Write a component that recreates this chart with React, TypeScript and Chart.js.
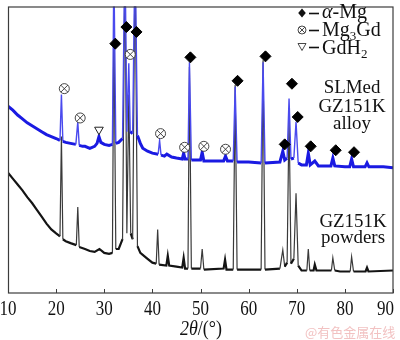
import { useEffect, useRef } from "react";
import { Chart, registerables } from "chart.js";

Chart.register(...registerables);

const X_MIN = 10;
const X_MAX = 90;
const Y_MAX = 293;
const X_TICKS = [10, 20, 30, 40, 50, 60, 70, 80, 90];

// SLMed GZ151K alloy pattern (2θ, intensity a.u.)
const ALLOY_2THETA = [
  10, 11, 12, 13, 14, 15, 16, 17, 18, 19, 20, 20.8, 21.1, 21.4, 22, 23, 24.1, 24.5, 24.8,
  25.5, 26, 27, 28, 28.5, 28.9, 29.3, 30, 31, 31.7, 32.0, 32.4, 33, 33.8, 34.3, 34.7, 35.1,
  35.4, 35.9, 36.4, 36.9, 37.5, 38, 39, 40, 41.2, 41.5, 41.8, 42.5, 43, 44, 45, 46.2, 46.5,
  46.8, 47.4, 47.7, 48.1, 50, 50.35, 50.7, 54.8, 55.2, 55.6, 56.8, 57.2, 57.6, 60, 62.6, 63.0,
  63.4, 66.5, 67.1, 67.5, 68.0, 68.4, 68.8, 69.4, 69.85, 70.3, 71, 72, 72.4, 72.8, 73.75, 74.5,
  77.1, 77.5, 77.9, 80, 81.0, 81.4, 81.8, 84.2, 84.6, 85, 88, 90,
];
const ALLOY_INT = [
  191, 187, 182, 178, 174, 171, 168, 165, 162, 160, 158, 156, 203, 155, 154, 153, 152, 175, 151,
  150, 150, 148, 150, 153, 160, 154, 152, 151, 152, 333, 153, 154, 158, 353, 165, 235,
  165, 163, 353, 161, 153, 148, 145, 143, 142, 156, 141, 140, 142, 139, 138, 137, 143,
  137, 137, 236, 136, 136, 144, 135, 135, 140, 135, 135, 211, 134, 134, 133, 236,
  133, 134, 145, 136, 138, 199, 137, 138, 175, 133, 131, 131, 143, 131, 135, 130,
  130, 138, 130, 129, 129, 137, 129, 129, 133, 129, 129, 128,
];

// GZ151K powders pattern (2θ, intensity a.u.)
const POWDER_2THETA = [
  10, 11, 12, 13, 14, 15, 16, 17, 18, 19, 20, 20.8, 21.1, 21.4, 22, 23, 24.2, 24.5, 24.8,
  26, 27, 28, 29, 30, 31, 31.7, 32.0, 32.4, 33, 33.8, 34.3, 34.7, 35.1, 35.5, 35.9, 36.4,
  36.9, 37.5, 38, 39, 40, 40.8, 41.1, 41.4, 42.9, 43.2, 43.5, 45, 46.2, 46.5, 46.8, 47.4,
  47.7, 48.1, 50, 50.35, 50.7, 54.8, 55.1, 55.4, 56.8, 57.2, 57.6, 62.6, 63.0, 63.4, 66.5,
  67.1, 67.5, 68.0, 68.4, 68.8, 69.4, 69.85, 70.3, 71, 72.1, 72.4, 72.7, 73.5, 73.75, 74.1,
  77.2, 77.5, 77.9, 79, 81.1, 81.4, 81.8, 84.3, 84.6, 84.9, 90,
];
const POWDER_INT = [
  123, 117, 111, 105, 98, 92, 85, 78, 71, 65, 61, 58, 160, 55, 53, 51, 49, 88, 47,
  45, 43, 42, 45, 41, 40, 41, 283, 45, 45, 55, 343, 61, 203, 61, 55, 343,
  48, 41, 39, 35, 31, 30, 65, 29, 28, 38, 28, 27, 26, 36, 25, 25,
  231, 25, 25, 45, 24, 25, 34, 24, 24, 213, 24, 24, 238, 24, 25,
  44, 27, 31, 183, 30, 35, 102, 28, 23, 23, 45, 23, 23, 29, 23,
  23, 36, 23, 22, 22, 37, 22, 22, 26, 22, 23,
];

// Phase markers
const MG_2THETA = [32.3, 34.6, 36.7, 47.9, 57.7, 63.5, 67.5, 69.0, 70.2, 72.9, 78.1, 81.9];
const MG_INT = [255, 272, 267, 241, 217, 242, 152, 214, 180, 150, 146, 144];
const MG3GD_2THETA = [21.7, 25.0, 35.4, 41.7, 46.7, 50.7, 55.2];
const MG3GD_INT = [209, 179, 244, 163, 149, 150, 147];
const GDH2_2THETA = [28.9];
const GDH2_INT = [167];

const X_TITLE_ITALIC = "2θ";
const X_TITLE_REST = "/(°)";
const ALLOY_LABEL = ["SLMed", "GZ151K", "alloy"];
const POWDER_LABEL = ["GZ151K", "powders"];
const WATERMARK = "@有色金属在线";

const SERIF = "'Liberation Serif', 'Times New Roman', serif";

const pts = (xs: number[], ys: number[]) => xs.map((x, i) => ({ x, y: ys[i] }));

type Run = { s: string; font: string; dy?: number };

function drawRuns(ctx: CanvasRenderingContext2D, runs: Run[], x: number, y: number, align: "left" | "center" | "right", sx = 1) {
  let total = 0;
  const widths = runs.map((r) => {
    ctx.font = r.font;
    const w = ctx.measureText(r.s).width * sx;
    total += w;
    return w;
  });
  let cx = align === "left" ? x : align === "center" ? x - total / 2 : x - total;
  runs.forEach((r, i) => {
    ctx.save();
    ctx.font = r.font;
    ctx.textAlign = "left";
    ctx.textBaseline = "alphabetic";
    ctx.translate(cx, y + (r.dy || 0));
    ctx.scale(sx, 1);
    ctx.fillText(r.s, 0, 0);
    ctx.restore();
    cx += widths[i];
  });
}

const decor = {
  id: "decor",
  afterDraw(chart: any) {
    const { ctx, chartArea: a, scales } = chart;
    const xs = scales.x;
    ctx.save();
    // frame
    ctx.strokeStyle = "#3c3c3c";
    ctx.lineWidth = 1.2;
    ctx.strokeRect(a.left + 0.5, a.top + 0.5, a.right - a.left - 0.5, a.bottom - a.top - 0.5);
    // inward ticks
    ctx.lineWidth = 1;
    X_TICKS.forEach((v) => {
      const px = Math.round(xs.getPixelForValue(v)) + 0.5;
      ctx.beginPath();
      ctx.moveTo(px, a.bottom);
      ctx.lineTo(px, a.bottom - 4);
      ctx.stroke();
    });
    ctx.fillStyle = "#111";
    // tick labels
    X_TICKS.forEach((v, i) => {
      const px = xs.getPixelForValue(v);
      const last = i === X_TICKS.length - 1;
      drawRuns(ctx, [{ s: String(v), font: `20px ${SERIF}` }], last ? a.right + 1 : px, 315, last ? "right" : "center", 0.85);
    });
    // axis title
    drawRuns(
      ctx,
      [
        { s: X_TITLE_ITALIC, font: `italic 20px ${SERIF}` },
        { s: X_TITLE_REST, font: `20px ${SERIF}` },
      ],
      201,
      335,
      "center",
      0.9
    );
    // legend
    const sx0 = 302;
    const rows = [13, 30, 47];
    // diamond
    ctx.beginPath();
    ctx.moveTo(sx0, rows[0] - 4.5);
    ctx.lineTo(sx0 + 3.8, rows[0]);
    ctx.lineTo(sx0, rows[0] + 4.5);
    ctx.lineTo(sx0 - 3.8, rows[0]);
    ctx.closePath();
    ctx.fill();
    // circle cross
    ctx.strokeStyle = "#333";
    ctx.lineWidth = 0.9;
    ctx.beginPath();
    ctx.arc(sx0, rows[1], 4, 0, Math.PI * 2);
    ctx.stroke();
    const d = 4 * Math.SQRT1_2;
    ctx.beginPath();
    ctx.moveTo(sx0 - d, rows[1] - d);
    ctx.lineTo(sx0 + d, rows[1] + d);
    ctx.moveTo(sx0 + d, rows[1] - d);
    ctx.lineTo(sx0 - d, rows[1] + d);
    ctx.stroke();
    // triangle down
    ctx.beginPath();
    ctx.moveTo(sx0 - 4, rows[2] - 3.5);
    ctx.lineTo(sx0 + 4, rows[2] - 3.5);
    ctx.lineTo(sx0, rows[2] + 3.5);
    ctx.closePath();
    ctx.stroke();
    // dashes
    ctx.strokeStyle = "#111";
    ctx.lineWidth = 1.6;
    rows.forEach((ry) => {
      ctx.beginPath();
      ctx.moveTo(309, ry + 0.5);
      ctx.lineTo(319, ry + 0.5);
      ctx.stroke();
    });
    const lf = `20px ${SERIF}`;
    const lsub = `13px ${SERIF}`;
    drawRuns(ctx, [{ s: "α", font: `italic ${lf}` }, { s: "-Mg", font: lf }], 322, 18, "left");
    drawRuns(ctx, [{ s: "Mg", font: lf }, { s: "3", font: lsub, dy: 4 }, { s: "Gd", font: lf }], 322, 36, "left");
    drawRuns(ctx, [{ s: "GdH", font: lf }, { s: "2", font: lsub, dy: 4 }], 322, 54, "left");
    // sample labels
    const sf = `18px ${SERIF}`;
    [93, 112, 129].forEach((by, i) => drawRuns(ctx, [{ s: ALLOY_LABEL[i], font: sf }], 352, by, "center", 1.05));
    [227, 243].forEach((by, i) => drawRuns(ctx, [{ s: POWDER_LABEL[i], font: sf }], 353, by, "center", 1.05));
    // watermark
    ctx.fillStyle = "#f2c2c2";
    drawRuns(ctx, [{ s: WATERMARK, font: "13px 'Noto Sans CJK SC', sans-serif" }], 305, 337, "left");
    ctx.restore();
  },
};

export default function App() {
  const ref = useRef<HTMLCanvasElement | null>(null);
  useEffect(() => {
    if (!ref.current) return;
    const isPeak = (c: any) => Math.abs(c.p1.parsed.y - c.p0.parsed.y) > 12;
    const chart = new Chart(ref.current, {
      type: "scatter",
      data: {
        datasets: [
          {
            data: pts(MG_2THETA, MG_INT),
            pointStyle: "rectRot",
            pointRadius: 5.5,
            backgroundColor: "#000",
            borderColor: "#000",
            borderWidth: 1,
          },
          {
            data: pts(MG3GD_2THETA, MG3GD_INT),
            pointStyle: "crossRot",
            pointRadius: 5,
            borderColor: "#333",
            borderWidth: 0.9,
          },
          {
            data: pts(MG3GD_2THETA, MG3GD_INT),
            pointStyle: "circle",
            pointRadius: 5,
            backgroundColor: "#fff",
            borderColor: "#333",
            borderWidth: 0.9,
          },
          {
            data: pts(GDH2_2THETA, GDH2_INT),
            pointStyle: "triangle",
            rotation: 180,
            pointRadius: 5,
            backgroundColor: "#fff",
            borderColor: "#222",
            borderWidth: 1,
          },
          {
            data: pts(ALLOY_2THETA, ALLOY_INT),
            showLine: true,
            pointRadius: 0,
            borderColor: "#1a1ae2",
            borderWidth: 3,
            segment: {
              borderWidth: (c: any) => (isPeak(c) ? 1.4 : 3),
              borderColor: (c: any) => (isPeak(c) ? "#4a4aee" : "#1a1ae2"),
            },
          },
          {
            data: pts(POWDER_2THETA, POWDER_INT),
            showLine: true,
            pointRadius: 0,
            borderColor: "#141414",
            borderWidth: 2.2,
            segment: {
              borderWidth: (c: any) => (isPeak(c) ? 1.2 : 2.2),
              borderColor: (c: any) => (isPeak(c) ? "#3a3a3a" : "#141414"),
            },
          },
        ],
      },
      options: {
        animation: false,
        responsive: false,
        events: [],
        layout: { padding: { left: 8, right: 7, top: 0, bottom: 0 } },
        plugins: { legend: { display: false }, tooltip: { enabled: false } },
        scales: {
          x: {
            type: "linear",
            min: X_MIN,
            max: X_MAX,
            ticks: { display: false, stepSize: 10 },
            grid: { display: false, drawTicks: false },
            border: { display: false },
            afterFit: (s: any) => {
              s.height = 47;
            },
          },
          y: {
            display: false,
            min: 0,
            max: Y_MAX,
          },
        },
      },
      plugins: [decor],
    });
    return () => chart.destroy();
  }, []);
  return (
    <div style={{ position: "fixed", left: 0, top: 0, width: 400, height: 340, background: "#fff" }}>
      <canvas ref={ref} width={400} height={340} />
    </div>
  );
}
